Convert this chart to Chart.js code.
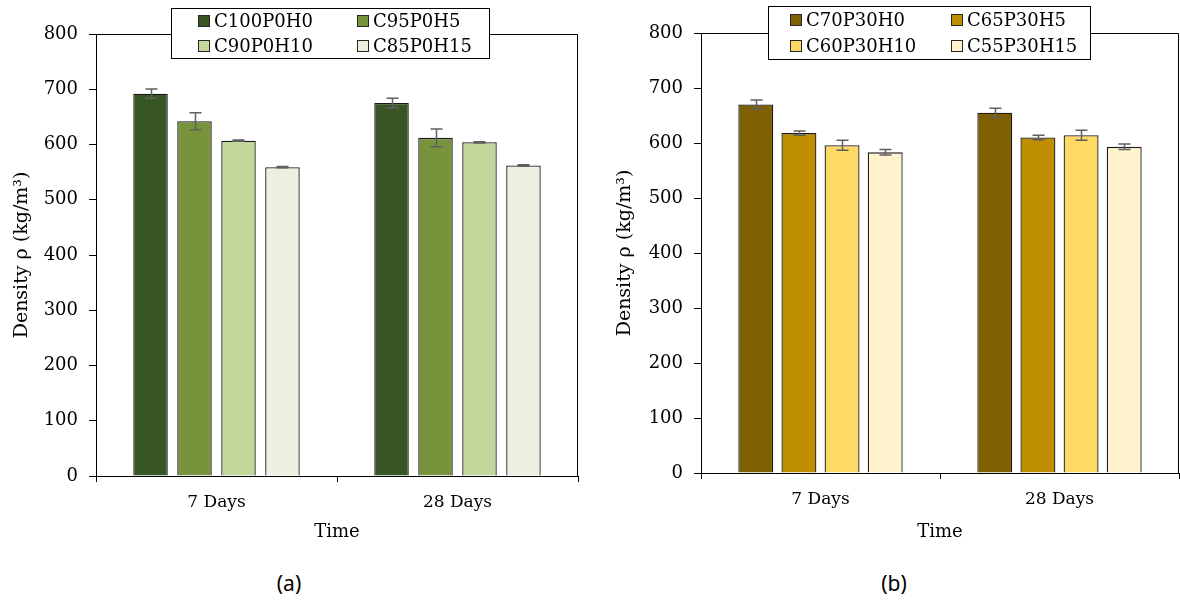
<!DOCTYPE html>
<html><head><meta charset="utf-8">
<script src="https://cdn.jsdelivr.net/npm/chart.js@4.4.0/dist/chart.umd.min.js"></script>
<style>
html,body{margin:0;padding:0;background:#fff;width:1180px;height:601px;overflow:hidden;}
.wrap{position:absolute;top:0;width:590px;height:560px;}
#wa{left:0}
#wb{left:590px}
.cap{position:absolute;top:570px;width:60px;height:26px;line-height:26px;text-align:center;font-family:"Noto Sans",sans-serif;font-size:21px;color:#000;}
</style></head><body>
<div class="wrap" id="wa"><canvas id="ca"></canvas></div>
<div class="wrap" id="wb"><canvas id="cb"></canvas></div>
<div class="cap" style="left:259px">(a)</div>
<div class="cap" style="left:864px">(b)</div>
<script>
// ---- data ----
const categories = ['7 Days', '28 Days'];
const yTickValues = [0, 100, 200, 300, 400, 500, 600, 700, 800];
const yTitle = 'Density ρ (kg/m³)';
const xTitle = 'Time';

const labelsA = ['C100P0H0', 'C95P0H5', 'C90P0H10', 'C85P0H15'];
const a_C100P0H0 = [692, 675];
const a_C95P0H5  = [642, 612];
const a_C90P0H10 = [607, 604];
const a_C85P0H15 = [559, 562];
const errA_C100P0H0 = [8.5, 8.5];
const errA_C95P0H5  = [15.5, 16];
const errA_C90P0H10 = [1.2, 1.2];
const errA_C85P0H15 = [1, 1.2];

const labelsB = ['C70P30H0', 'C65P30H5', 'C60P30H10', 'C55P30H15'];
const b_C70P30H0  = [670, 655];
const b_C65P30H5  = [618, 610];
const b_C60P30H10 = [596, 614];
const b_C55P30H15 = [583, 593];
const errB_C70P30H0  = [8, 8];
const errB_C65P30H5  = [4, 4];
const errB_C60P30H10 = [9, 9];
const errB_C55P30H15 = [5, 5];

// ---- styles ----
const colorsA = ['#375623', '#77933C', '#C4D79B', '#EBF1DE'];
const colorsB = ['#7F6000', '#BF8F00', '#FFD966', '#FFF2CC'];
const SERIF = '"DejaVu Serif", serif';

const errorBarPlugin = {
  id: 'errorBars',
  afterDatasetsDraw(chart) {
    const ctx = chart.ctx, ys = chart.scales.y;
    ctx.save();
    ctx.strokeStyle = '#606060';
    ctx.lineWidth = 1.5;
    chart.data.datasets.forEach((ds, i) => {
      const meta = chart.getDatasetMeta(i);
      meta.data.forEach((el, j) => {
        const v = ds.data[j], e = ds.errors[j];
        const x = Math.round(el.x) + 0.5;
        const yt = ys.getPixelForValue(v + e), yb = ys.getPixelForValue(v - e);
        const hw = 6;
        ctx.beginPath();
        ctx.moveTo(x, yt); ctx.lineTo(x, yb);
        ctx.moveTo(x - hw, yt); ctx.lineTo(x + hw, yt);
        ctx.moveTo(x - hw, yb); ctx.lineTo(x + hw, yb);
        ctx.stroke();
      });
    });
    ctx.restore();
  }
};

const framePlugin = {
  id: 'frame',
  afterDatasetsDraw(chart) {
    const {ctx, chartArea: a} = chart;
    ctx.save();
    ctx.strokeStyle = '#000';
    ctx.lineWidth = 1;
    const t = Math.round(a.top) + 0.5, r = Math.round(a.right) - 0.5;
    ctx.beginPath();
    ctx.moveTo(Math.round(a.left), t); ctx.lineTo(r, t); ctx.lineTo(r, Math.round(a.bottom));
    ctx.stroke();
    ctx.restore();
  }
};

const boxLegendPlugin = {
  id: 'boxLegend',
  afterDraw(chart, args, opts) {
    const ctx = chart.ctx;
    ctx.save();
    ctx.fillStyle = '#fff';
    ctx.fillRect(opts.x, opts.y, opts.w, opts.h);
    ctx.strokeStyle = '#000';
    ctx.lineWidth = 1;
    ctx.strokeRect(Math.round(opts.x) + 0.5, Math.round(opts.y) + 0.5, opts.w, opts.h);
    ctx.font = '18px ' + SERIF;
    ctx.textBaseline = 'middle';
    ctx.textAlign = 'left';
    chart.data.datasets.forEach((ds, i) => {
      const col = i % 2, row = Math.floor(i / 2);
      const mx = opts.cols[col], my = opts.rows[row];
      ctx.fillStyle = ds.backgroundColor;
      ctx.fillRect(mx, my - 6, 12, 12);
      ctx.strokeStyle = '#262626';
      ctx.strokeRect(mx + 0.5, my - 5.5, 11, 11);
      ctx.fillStyle = '#000';
      ctx.fillText(ds.label, mx + 16, my + 1);
    });
    ctx.restore();
  }
};

function makeChart(id, labels, series, errors, colors, geo) {
  const datasets = labels.map((l, i) => ({
    label: l,
    data: series[i],
    errors: errors[i],
    backgroundColor: colors[i],
    borderColor: '#1a1a1a',
    borderWidth: 1.3,
    categoryPercentage: geo.cat,
    barPercentage: geo.bar
  }));
  return new Chart(document.getElementById(id), {
    type: 'bar',
    data: {labels: categories, datasets},
    plugins: [framePlugin, errorBarPlugin, boxLegendPlugin],
    options: {
      responsive: true,
      maintainAspectRatio: false,
      animation: false,
      layout: {padding: {top: geo.top, right: geo.right, bottom: geo.bottom, left: 0}},
      plugins: {
        legend: {display: false},
        tooltip: {enabled: false},
        boxLegend: geo.legend
      },
      scales: {
        x: {
          type: 'category',
          grid: {display: true, drawOnChartArea: false, drawTicks: true, tickLength: 6, offset: true, color: '#000', lineWidth: 1},
          border: {display: true, color: '#000', width: 1},
          ticks: {font: {family: SERIF, size: 17}, color: '#000', padding: 10, maxRotation: 0},
          title: {display: true, text: xTitle, font: {family: SERIF, size: 18}, color: '#000', padding: {top: 0, bottom: geo.xtpad}},
          afterFit(s) { s.height = 70; }
        },
        y: {
          min: 0, max: 800,
          afterBuildTicks(s) { s.ticks = yTickValues.map(v => ({value: v})); },
          grid: {display: true, drawOnChartArea: false, drawTicks: true, tickLength: 7, color: '#000', lineWidth: 1},
          border: {display: true, color: '#000', width: 1},
          ticks: {font: {family: SERIF, size: 18}, color: '#000', padding: 11},
          title: {display: true, text: yTitle, font: {family: SERIF, size: 19}, color: '#000', padding: {top: geo.ytpad, bottom: 0}},
          afterFit(s) { s.width = geo.yw; }
        }
      }
    }
  });
}

makeChart('ca', labelsA,
  [a_C100P0H0, a_C95P0H5, a_C90P0H10, a_C85P0H15],
  [errA_C100P0H0, errA_C95P0H5, errA_C90P0H10, errA_C85P0H15],
  colorsA,
  {cat: 0.73, bar: 0.785, top: 34, right: 12, bottom: 14, yw: 96, ytpad: 11, xtpad: 3,
   legend: {x: 171, y: 8, w: 318, h: 50, cols: [198, 357], rows: [21, 46]}});

makeChart('cb', labelsB,
  [b_C70P30H0, b_C65P30H5, b_C60P30H10, b_C55P30H15],
  [errB_C70P30H0, errB_C65P30H5, errB_C60P30H10, errB_C55P30H15],
  colorsB,
  {cat: 0.722, bar: 0.81, top: 33, right: 1, bottom: 17, yw: 111, ytpad: 24, xtpad: 0,
   legend: {x: 178, y: 6, w: 322, h: 53, cols: [200, 361], rows: [20, 46]}});
</script>
</body></html>
